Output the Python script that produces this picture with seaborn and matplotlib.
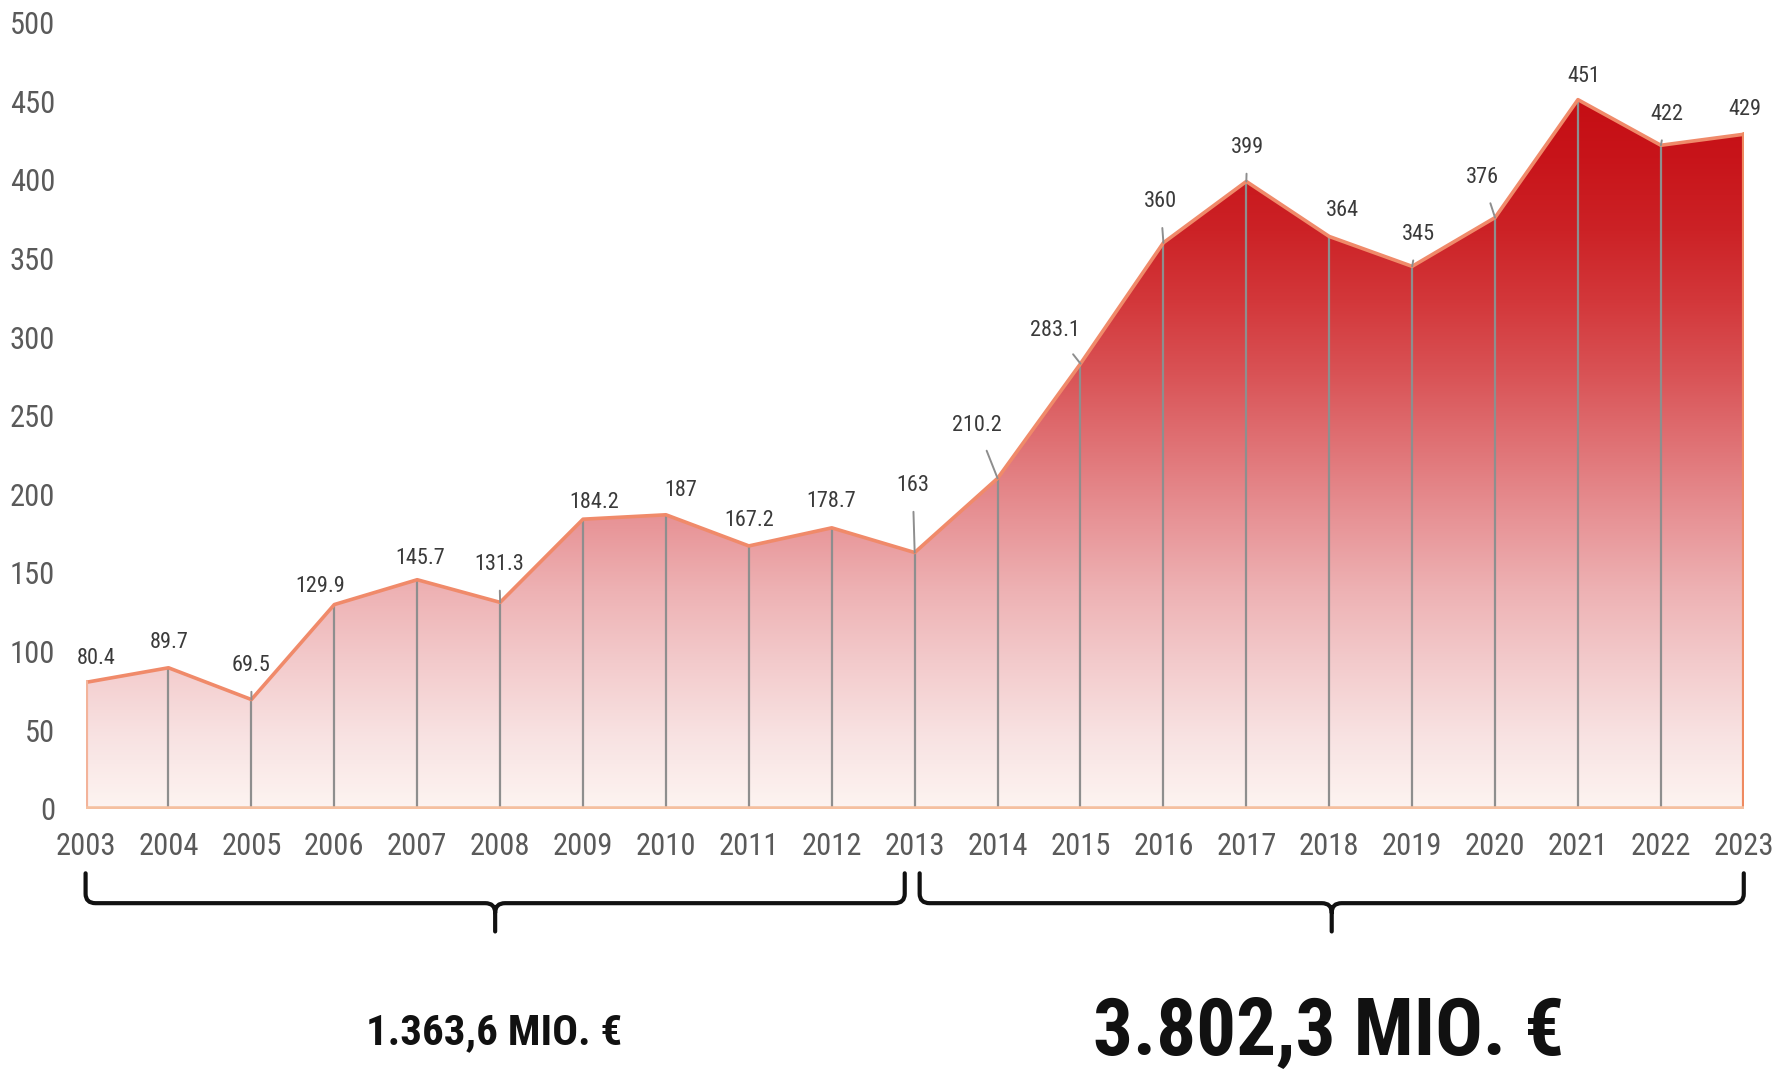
import numpy as np
import pandas as pd
import matplotlib
matplotlib.use("Agg")
import matplotlib.pyplot as plt
import seaborn as sns
from matplotlib import font_manager
from matplotlib.colors import LinearSegmentedColormap
from matplotlib.path import Path
from matplotlib.patches import PathPatch
import matplotlib.transforms as mtransforms

# data (Mio. EUR per year)
years = [2003, 2004, 2005, 2006, 2007, 2008, 2009, 2010, 2011, 2012, 2013,
         2014, 2015, 2016, 2017, 2018, 2019, 2020, 2021, 2022, 2023]
values = [80.4, 89.7, 69.5, 129.9, 145.7, 131.3, 184.2, 187, 167.2, 178.7, 163,
          210.2, 283.1, 360, 399, 364, 345, 376, 451, 422, 429]
value_labels = ["80.4", "89.7", "69.5", "129.9", "145.7", "131.3", "184.2", "187",
                "167.2", "178.7", "163", "210.2", "283.1", "360", "399", "364",
                "345", "376", "451", "422", "429"]
yticks = [0, 50, 100, 150, 200, 250, 300, 350, 400, 450, 500]
total_labels = ["1.363,6 MIO. €", "3.802,3 MIO. €"]

# label nudges in pixels and which labels get a small leader line (layout only)
label_dx = [11, 1, 0, -14, 3, -1, 11, 15, 0, -1, -2, -21, -26, -3, 1, 13, 6, -13, 6, 6, 1]
label_dy = [24, 25, 34, 18, 21, 38, 17, 24, 25, 26, 67, 53, 33, 41, 34, 26, 32, 40, 23, 31, 25]
leader = [0, 0, 1, 0, 0, 1, 0, 0, 0, 0, 1, 1, 1, 1, 1, 0, 1, 1, 0, 1, 0]

df = pd.DataFrame({"year": years, "value": values})

sns.set_style("white")

# look for a condensed face, the original uses a narrow display font
narrow_stretch = {"ultra-condensed", "extra-condensed", "condensed", "semi-condensed"}
found = None
for f in font_manager.fontManager.ttflist:
    st = f.stretch
    is_narrow = ("Narrow" in f.name or "Condensed" in f.name
                 or (isinstance(st, str) and st in narrow_stretch)
                 or (isinstance(st, (int, float)) and st < 500))
    if is_narrow:
        rank = 0 if "Liberation" in f.name else (1 if "Roboto" in f.name else 2)
        if found is None or rank < found[0]:
            found = (rank, f.name, st)

if found is not None:
    fam, stretch, k = found[1], found[2], 1.0
else:
    fam, stretch, k = "Roboto", "normal", 0.82
plt.rcParams["font.family"] = [fam, "DejaVu Sans"]
plt.rcParams["font.stretch"] = stretch

fig = plt.figure(figsize=(17.83, 10.77), dpi=100)
ax = fig.add_axes([0.048, 0.249, 0.930, 0.730])

# gradient fill under the curve
cmap = LinearSegmentedColormap.from_list(
    "reds", [(0.0, "#fdf4f1"), (0.1, "#f8e2e2"), (0.2, "#f3cbcc"), (0.3, "#eeb2b4"),
             (0.4, "#e79396"), (0.5, "#e07376"), (0.6, "#d95356"), (0.7, "#d3383b"),
             (0.8, "#cc2226"), (0.9, "#c8141a"), (1.0, "#c40d12")])
poly = ax.fill_between(df["year"], 0, df["value"], color="none", lw=0)
grad = np.linspace(0, 1, 256).reshape(-1, 1)
img = ax.imshow(grad, cmap=cmap, origin="lower", aspect="auto",
                extent=[years[0], years[-1], 0, 460], zorder=1)
img.set_clip_path(poly.get_paths()[0], transform=ax.transData)

# vertical grey drop lines
ax.vlines(df["year"], 0, df["value"], color="#8e8e8e", lw=1.6, zorder=2)

# outline of the area
sns.lineplot(data=df, x="year", y="value", color="#f08a6a", lw=2.6, ax=ax, zorder=3)
ax.plot([years[0], years[0]], [0, values[0]], color="#f3b39a", lw=3, zorder=3)
ax.plot([years[-1], years[-1]], [0, values[-1]], color="#ef8a60", lw=3, zorder=3)
ax.plot([years[0], years[-1]], [0, 0], color="#f5c0a0", lw=4, zorder=3)

for x, v, lab, dx, dy, ld in zip(years, values, value_labels, label_dx, label_dy, leader):
    arrow = None
    if ld:
        arrow = dict(arrowstyle="-", color="#8e8e8e", lw=1.4, shrinkA=9, shrinkB=0)
    ax.annotate(lab, (x, v), xytext=(dx, dy), textcoords="offset pixels",
                ha="center", va="center", fontsize=16 * k, color="#3a3a3a",
                zorder=5, arrowprops=arrow)

ax.set_xlim(years[0], years[-1])
ax.set_ylim(0, 500)
ax.set_yticks(yticks)
ax.set_yticklabels([str(t) for t in yticks])
ax.set_xticks(years)
ax.set_xticklabels([str(y) for y in years])
ax.tick_params(axis="y", length=0, pad=22, labelsize=22 * k, labelcolor="#5a5a5a")
ax.tick_params(axis="x", length=0, pad=17, labelsize=22 * k, labelcolor="#5a5a5a")
ax.set_xlabel("")
ax.set_ylabel("")
sns.despine(ax=ax, left=True, bottom=True)


def brace(x0, x1, y_top, y_mid, y_tip, rx=0.12, ry=0.012):
    xm = (x0 + x1) / 2
    verts = [(x0, y_top), (x0, y_mid + ry), (x0, y_mid), (x0 + rx, y_mid),
             (xm - rx, y_mid), (xm, y_mid), (xm, y_mid - ry), (xm, y_tip),
             (xm, y_mid - ry), (xm, y_mid), (xm + rx, y_mid),
             (x1 - rx, y_mid), (x1, y_mid), (x1, y_mid + ry), (x1, y_top)]
    codes = [Path.MOVETO, Path.LINETO, Path.CURVE3, Path.CURVE3,
             Path.LINETO, Path.CURVE3, Path.CURVE3, Path.LINETO,
             Path.MOVETO, Path.CURVE3, Path.CURVE3,
             Path.LINETO, Path.CURVE3, Path.CURVE3, Path.LINETO]
    trans = mtransforms.blended_transform_factory(ax.transData, ax.transAxes)
    patch = PathPatch(Path(verts, codes), transform=trans, fill=False,
                      edgecolor="#111111", lw=3.0, clip_on=False,
                      capstyle="round", joinstyle="round")
    ax.add_patch(patch)


brace(2003, 2012.88, -0.082, -0.120, -0.156)
brace(2013.06, 2023, -0.082, -0.120, -0.156)

fig.text(0.277, 0.041, total_labels[0], ha="center", va="center",
         fontsize=31 * k, fontweight="bold", color="#111111")
fig.text(0.745, 0.040, total_labels[1], ha="center", va="center",
         fontsize=57 * k, fontweight="bold", color="#111111")

fig.savefig("out.png", dpi=100, facecolor="white")
